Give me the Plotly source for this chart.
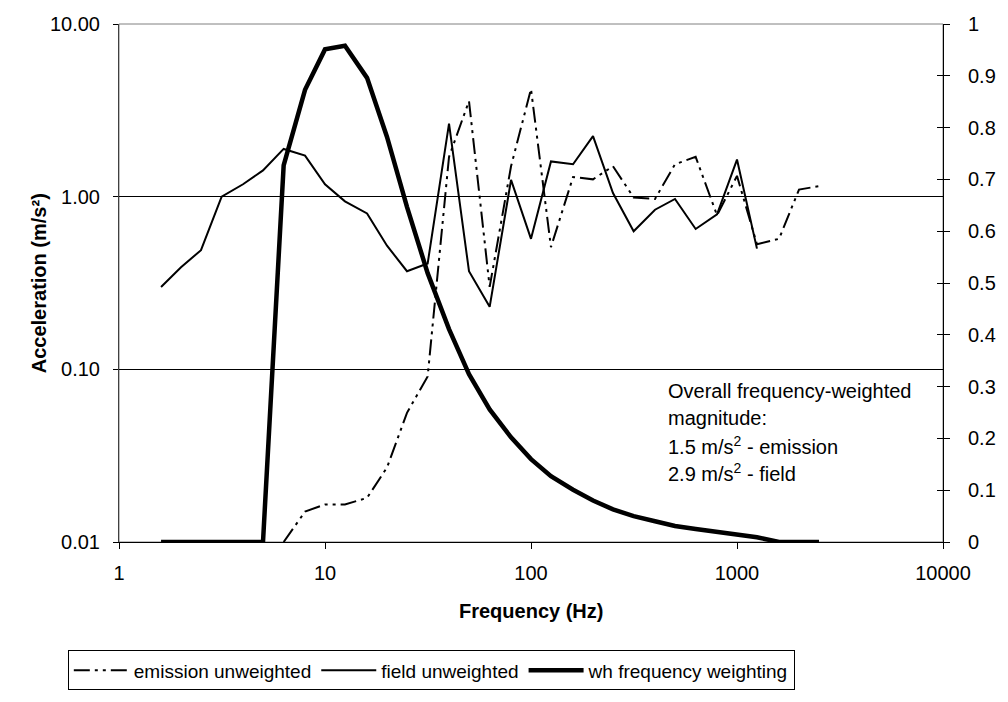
import plotly.graph_objects as go

# ---------------- data ----------------
freq_hz = [1.6, 2, 2.5, 3.15, 4, 5, 6.3, 8, 10, 12.5, 16, 20, 25, 31.5, 40, 50, 63,
           80, 100, 125, 160, 200, 250, 315, 400, 500, 630, 800, 1000, 1250, 1600,
           2000, 2500]

emission_unweighted = [None, None, None, None, None, None,
                       0.010, 0.015, 0.0165, 0.0165, 0.018, 0.027, 0.056, 0.091,
                       1.70, 3.58, 0.30, 1.50, 4.20, 0.51, 1.30, 1.26, 1.50, 0.99,
                       0.97, 1.54, 1.70, 0.78, 1.32, 0.53, 0.57, 1.10, 1.15]

field_unweighted = [0.30, 0.39, 0.49, 1.00, 1.18, 1.42, 1.89, 1.73, 1.18, 0.94,
                    0.80, 0.52, 0.37, 0.41, 2.65, 0.37, 0.23, 1.25, 0.57, 1.60,
                    1.54, 2.24, 1.05, 0.63, 0.84, 0.97, 0.65, 0.79, 1.64, 0.50,
                    None, None, None]

wh_weighting = [0, 0, 0, 0, 0, 0, 0.727, 0.873, 0.951, 0.958, 0.896, 0.782, 0.647,
                0.519, 0.411, 0.324, 0.256, 0.202, 0.160, 0.127, 0.101, 0.080,
                0.063, 0.050, 0.040, 0.031, 0.025, 0.019, 0.0135, 0.009, 0, 0, 0]

x_tick_vals = [1, 10, 100, 1000, 10000]
x_tick_text = ["1", "10", "100", "1000", "10000"]
left_tick_vals = [0.01, 0.1, 1, 10]
left_tick_text = ["0.01", "0.10", "1.00", "10.00"]
left_grid_vals = [0.1, 1]
right_tick_vals = [0, 0.1, 0.2, 0.3, 0.4, 0.5, 0.6, 0.7, 0.8, 0.9, 1]
right_tick_text = ["0", "0.1", "0.2", "0.3", "0.4", "0.5", "0.6", "0.7", "0.8", "0.9", "1"]

note_lines = ["Overall frequency-weighted", "magnitude:",
              "1.5 m/s<sup>2</sup> - emission", "2.9 m/s<sup>2</sup> - field"]

# ---------------- figure ----------------
FONT = "Liberation Sans, Arial, sans-serif"
W, H = 1008, 702
L, R, T, B = 119, 52, 24, 147
PW, PH = W - L - R, H - T - B


def px_x(px):
    return (px - L) / PW


def px_y(py):
    return (H - B - py) / PH


fig = go.Figure()
fig.add_trace(go.Scatter(
    x=freq_hz, y=emission_unweighted, name="emission unweighted", mode="lines",
    line=dict(color="black", width=2, dash="16px,5px,3px,5px,3px,5px"),
    yaxis="y", hoverinfo="skip"))
fig.add_trace(go.Scatter(
    x=freq_hz, y=field_unweighted, name="field unweighted", mode="lines",
    line=dict(color="black", width=2), yaxis="y", hoverinfo="skip"))
fig.add_trace(go.Scatter(
    x=freq_hz, y=wh_weighting, name="wh frequency weighting", mode="lines",
    line=dict(color="black", width=4.5), yaxis="y2", hoverinfo="skip"))
# empty helper traces so the overlay axes (grid / crossing ticks) are drawn
fig.add_trace(go.Scatter(x=[], y=[], yaxis="y3", showlegend=False, hoverinfo="skip"))
fig.add_trace(go.Scatter(x=[], y=[], yaxis="y4", showlegend=False, hoverinfo="skip"))

fig.update_layout(
    width=W, height=H,
    margin=dict(l=L, r=R, t=T, b=B),
    paper_bgcolor="white", plot_bgcolor="white",
    font=dict(family=FONT, size=20, color="black"),
    showlegend=True,
    xaxis=dict(type="log", range=[0, 4], tickvals=x_tick_vals, ticktext=x_tick_text,
               ticks="outside", ticklen=6, tickcolor="black", showline=True,
               linecolor="black", linewidth=1, showgrid=False, zeroline=False,
               ticklabelstandoff=7),
    yaxis=dict(type="log", range=[-2, 1], tickvals=left_tick_vals,
               ticktext=left_tick_text, ticks="outside", ticklen=5,
               tickcolor="black", showline=True, linecolor="#404040", linewidth=1,
               showgrid=False, zeroline=False, ticklabelstandoff=9),
    yaxis2=dict(overlaying="y", side="right", range=[0, 1],
                tickvals=right_tick_vals, ticktext=right_tick_text,
                ticks="outside", ticklen=6, tickcolor="black", showline=True,
                linecolor="black", linewidth=1, showgrid=False, zeroline=False,
                ticklabelstandoff=14),
    yaxis3=dict(overlaying="y", side="left", type="log", range=[-2, 1],
                tickvals=left_grid_vals, showgrid=True, gridcolor="black",
                gridwidth=1, ticks="inside", ticklen=5, tickcolor="black",
                showticklabels=False, showline=False, zeroline=False),
    yaxis4=dict(overlaying="y", side="right", range=[0, 1],
                tickvals=right_tick_vals, ticks="inside", ticklen=6,
                tickcolor="black", showticklabels=False, showline=False,
                showgrid=False, zeroline=False),
    legend=dict(orientation="h", x=px_x(67), xanchor="left", y=px_y(666),
                yanchor="top", bordercolor="black", borderwidth=1,
                bgcolor="white", font=dict(size=19, family=FONT),
                itemwidth=55, tracegroupgap=0),
    shapes=[dict(type="rect", xref="paper", yref="paper", x0=0, y0=0, x1=1, y1=1,
                 line=dict(color="#808080", width=1), layer="below")],
)

annotations = []
for i, txt in enumerate(note_lines):
    annotations.append(dict(text=txt, xref="paper", yref="paper", x=px_x(675),
                            y=px_y(400 + 28 * i), xanchor="left", yanchor="middle",
                            showarrow=False, font=dict(size=20, family=FONT)))
annotations.append(dict(text="<b>Frequency (Hz)</b>", xref="paper", yref="paper",
                        x=0.5, y=px_y(626), xanchor="center", yanchor="middle",
                        showarrow=False, font=dict(size=20, family=FONT)))
annotations.append(dict(text="<b>Acceleration (m/s²)</b>", xref="paper", yref="paper",
                        x=px_x(38), y=0.5, xanchor="center", yanchor="middle",
                        textangle=-90, showarrow=False, font=dict(size=20, family=FONT)))
fig.update_layout(annotations=annotations)

fig.write_html("out.html")
